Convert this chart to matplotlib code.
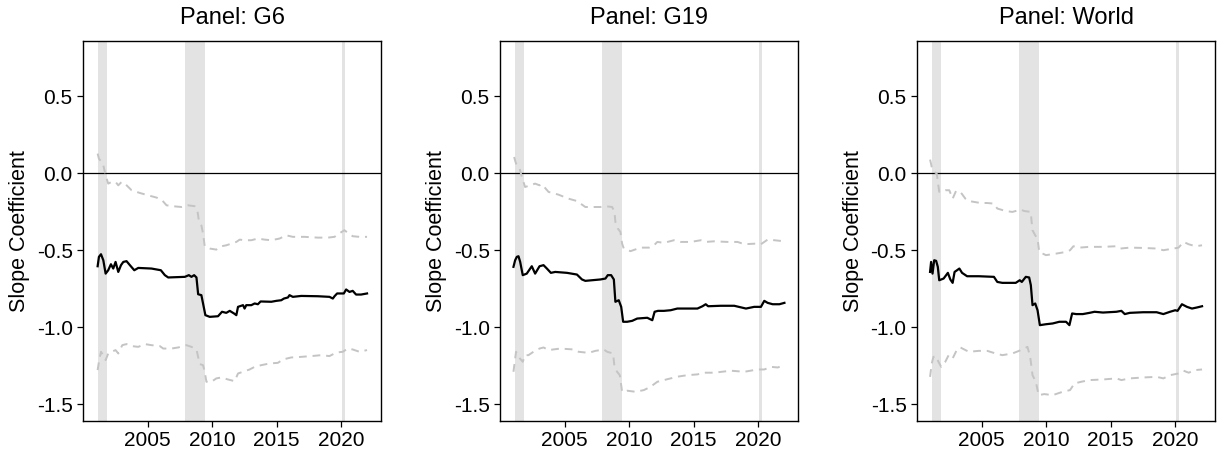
import matplotlib
matplotlib.use("Agg")
import matplotlib.pyplot as plt

plt.rcParams['font.family'] = ['Liberation Sans', 'DejaVu Sans']

panels = ['G6', 'G19', 'World']

# recession bands (start, end)
recessions = [(2001.17, 2001.83), (2007.92, 2009.42), (2020.08, 2020.30)]

# ---- G6 ----
g6_mid_x = [2001.13, 2001.23, 2001.39, 2001.57, 2001.75, 2001.95, 2002.16, 2002.34, 2002.52, 2002.73,
            2002.94, 2003.12, 2003.37, 2003.63, 2003.97, 2004.28, 2005.30, 2006.03, 2006.34, 2006.60,
            2007.89, 2008.20, 2008.40, 2008.61, 2008.79, 2008.92, 2009.17, 2009.30, 2009.48, 2009.82,
            2010.46, 2010.77, 2011.10, 2011.37, 2011.70, 2011.88, 2012.01, 2012.40, 2012.52, 2012.65,
            2013.04, 2013.30, 2013.55, 2013.76, 2014.59, 2014.98, 2015.36, 2015.57, 2015.88, 2016.00,
            2016.26, 2016.91, 2018.20, 2019.10, 2019.36, 2019.49, 2019.69, 2020.21, 2020.39, 2020.65,
            2020.90, 2021.16, 2021.55, 2022.01]
g6_mid_y = [-0.604, -0.543, -0.526, -0.565, -0.652, -0.630, -0.591, -0.619, -0.576, -0.641,
            -0.597, -0.576, -0.571, -0.597, -0.630, -0.615, -0.619, -0.630, -0.662, -0.677,
            -0.673, -0.662, -0.673, -0.662, -0.677, -0.786, -0.792, -0.846, -0.922, -0.933,
            -0.929, -0.900, -0.907, -0.894, -0.911, -0.922, -0.868, -0.857, -0.879, -0.857,
            -0.857, -0.846, -0.851, -0.833, -0.835, -0.829, -0.825, -0.814, -0.807, -0.792,
            -0.803, -0.797, -0.799, -0.803, -0.814, -0.799, -0.781, -0.781, -0.755, -0.771,
            -0.764, -0.788, -0.788, -0.781]
g6_hi_x = [2001.13, 2001.23, 2001.44, 2001.57, 2001.75, 2001.95, 2002.21, 2002.52, 2002.73, 2002.99,
           2003.24, 2003.76, 2004.41, 2005.05, 2005.70, 2006.08, 2006.47, 2006.98, 2007.63, 2008.14,
           2008.66, 2008.86, 2008.97, 2009.17, 2009.30, 2009.43, 2009.82, 2010.33, 2010.72, 2011.10,
           2011.49, 2011.88, 2012.14, 2012.52, 2013.04, 2013.55, 2014.07, 2014.59, 2015.23, 2015.75,
           2016.26, 2017.17, 2018.20, 2018.97, 2019.49, 2019.75, 2020.26, 2020.52, 2020.90, 2021.42,
           2022.01]
g6_hi_y = [0.128, 0.095, 0.074, 0.052, -0.013, -0.067, -0.056, -0.056, -0.078, -0.056,
           -0.067, -0.110, -0.128, -0.143, -0.158, -0.171, -0.208, -0.214, -0.219, -0.208,
           -0.214, -0.240, -0.305, -0.338, -0.392, -0.474, -0.489, -0.496, -0.474, -0.468,
           -0.457, -0.446, -0.431, -0.435, -0.435, -0.424, -0.431, -0.435, -0.424, -0.403,
           -0.413, -0.413, -0.418, -0.418, -0.413, -0.396, -0.370, -0.387, -0.409, -0.413,
           -0.413]
g6_lo_x = [2001.13, 2001.23, 2001.39, 2001.57, 2001.75, 2001.95, 2002.21, 2002.52, 2002.73, 2003.04,
           2003.37, 2003.76, 2004.28, 2004.79, 2005.30, 2005.95, 2006.21, 2006.85, 2007.37, 2008.01,
           2008.40, 2008.79, 2008.86, 2009.04, 2009.30, 2009.43, 2009.56, 2009.95, 2010.33, 2010.72,
           2011.23, 2011.75, 2012.01, 2012.40, 2012.91, 2013.30, 2013.81, 2014.46, 2015.10, 2015.49,
           2016.13, 2016.91, 2017.68, 2018.46, 2019.10, 2019.62, 2020.13, 2020.52, 2020.90, 2021.42,
           2022.01]
g6_lo_y = [-1.279, -1.225, -1.160, -1.182, -1.214, -1.171, -1.160, -1.149, -1.171, -1.117,
           -1.110, -1.123, -1.128, -1.110, -1.117, -1.123, -1.139, -1.139, -1.132, -1.117,
           -1.128, -1.145, -1.171, -1.240, -1.247, -1.290, -1.355, -1.355, -1.333, -1.327,
           -1.340, -1.351, -1.301, -1.290, -1.275, -1.258, -1.247, -1.236, -1.232, -1.210,
           -1.197, -1.193, -1.188, -1.182, -1.188, -1.165, -1.160, -1.139, -1.145, -1.160,
           -1.149]

# ---- G19 ----
g19_mid_x = [2001.04, 2001.17, 2001.30, 2001.43, 2001.56, 2001.76, 2002.07, 2002.46, 2002.72, 2003.06,
             2003.37, 2003.63, 2003.94, 2004.28, 2005.19, 2005.96, 2006.35, 2006.61, 2007.78, 2008.17,
             2008.35, 2008.61, 2008.82, 2008.94, 2009.20, 2009.39, 2009.54, 2009.85, 2010.24, 2010.63,
             2011.41, 2011.80, 2011.98, 2012.24, 2012.70, 2013.22, 2013.74, 2014.52, 2015.30, 2015.69,
             2015.94, 2016.13, 2017.11, 2018.15, 2019.06, 2019.70, 2020.22, 2020.48, 2020.74, 2021.13,
             2021.65, 2022.04]
g19_mid_y = [-0.608, -0.565, -0.543, -0.539, -0.576, -0.662, -0.652, -0.604, -0.652, -0.604,
             -0.597, -0.619, -0.647, -0.641, -0.647, -0.658, -0.690, -0.699, -0.690, -0.684,
             -0.662, -0.662, -0.690, -0.835, -0.825, -0.868, -0.965, -0.965, -0.959, -0.944,
             -0.939, -0.955, -0.900, -0.894, -0.894, -0.890, -0.879, -0.879, -0.879, -0.864,
             -0.851, -0.864, -0.861, -0.861, -0.879, -0.868, -0.868, -0.829, -0.842, -0.851,
             -0.851, -0.842]
g19_hi_x = [2001.09, 2001.24, 2001.50, 2001.69, 2001.94, 2002.33, 2002.72, 2003.06, 2003.24, 2003.76,
            2004.54, 2005.31, 2005.96, 2006.61, 2007.13, 2007.78, 2008.17, 2008.69, 2008.87, 2008.94,
            2009.13, 2009.33, 2009.46, 2009.59, 2010.11, 2010.89, 2011.54, 2011.93, 2012.19, 2012.70,
            2013.48, 2014.00, 2014.78, 2015.56, 2015.94, 2016.59, 2017.63, 2018.41, 2018.93, 2019.83,
            2020.22, 2020.74, 2021.26, 2022.04]
g19_hi_y = [0.106, 0.063, 0.037, -0.024, -0.089, -0.078, -0.067, -0.078, -0.071, -0.121,
            -0.139, -0.165, -0.180, -0.219, -0.219, -0.219, -0.214, -0.219, -0.251, -0.316,
            -0.359, -0.381, -0.457, -0.489, -0.506, -0.483, -0.483, -0.468, -0.446, -0.452,
            -0.435, -0.446, -0.446, -0.435, -0.446, -0.442, -0.446, -0.446, -0.461, -0.457,
            -0.461, -0.431, -0.435, -0.442]
g19_lo_x = [2001.04, 2001.24, 2001.43, 2001.76, 2001.94, 2002.20, 2002.59, 2003.06, 2003.37, 2003.76,
            2004.67, 2005.70, 2006.09, 2006.87, 2007.39, 2008.04, 2008.30, 2008.76, 2008.87, 2009.07,
            2009.28, 2009.46, 2009.85, 2010.50, 2011.15, 2011.67, 2012.19, 2012.70, 2013.74, 2014.52,
            2015.30, 2015.82, 2016.59, 2017.89, 2018.93, 2019.96, 2020.48, 2021.00, 2021.52, 2022.04]
g19_lo_y = [-1.290, -1.160, -1.193, -1.225, -1.182, -1.182, -1.160, -1.139, -1.132, -1.149,
            -1.139, -1.145, -1.160, -1.167, -1.154, -1.145, -1.160, -1.171, -1.258, -1.290,
            -1.312, -1.420, -1.413, -1.420, -1.409, -1.387, -1.355, -1.344, -1.322, -1.312,
            -1.307, -1.296, -1.296, -1.283, -1.290, -1.275, -1.275, -1.258, -1.262, -1.247]

# ---- World ----
world_mid_x = [2001.01, 2001.09, 2001.20, 2001.33, 2001.48, 2001.61, 2001.72, 2002.06, 2002.39, 2002.58,
               2002.76, 2002.91, 2003.10, 2003.28, 2003.49, 2003.88, 2004.79, 2005.96, 2006.22, 2006.61,
               2007.65, 2007.96, 2008.12, 2008.43, 2008.69, 2008.82, 2008.95, 2009.16, 2009.34, 2009.52,
               2009.99, 2010.51, 2011.03, 2011.55, 2011.81, 2012.02, 2012.33, 2012.85, 2013.37, 2013.76,
               2014.41, 2015.45, 2015.84, 2016.10, 2016.49, 2017.53, 2018.57, 2019.09, 2019.61, 2020.01,
               2020.19, 2020.53, 2020.92, 2021.31, 2021.70, 2022.09]
world_mid_y = [-0.641, -0.576, -0.652, -0.565, -0.569, -0.608, -0.695, -0.684, -0.647, -0.690,
               -0.712, -0.641, -0.630, -0.619, -0.647, -0.669, -0.669, -0.673, -0.706, -0.712,
               -0.712, -0.695, -0.706, -0.673, -0.677, -0.727, -0.857, -0.846, -0.890, -0.987,
               -0.981, -0.976, -0.965, -0.965, -0.987, -0.911, -0.915, -0.915, -0.907, -0.900,
               -0.905, -0.900, -0.894, -0.915, -0.907, -0.903, -0.903, -0.915, -0.900, -0.890,
               -0.894, -0.851, -0.868, -0.879, -0.872, -0.864]
world_hi_x = [2001.01, 2001.14, 2001.35, 2001.53, 2001.72, 2002.19, 2002.50, 2002.76, 2003.02, 2003.36,
              2003.75, 2004.01, 2004.92, 2005.44, 2005.96, 2006.22, 2006.87, 2007.39, 2008.04, 2008.30,
              2008.82, 2008.87, 2008.95, 2009.16, 2009.34, 2009.47, 2009.99, 2010.77, 2011.55, 2011.86,
              2012.12, 2012.59, 2013.37, 2014.41, 2015.45, 2015.76, 2016.49, 2017.53, 2018.57, 2019.09,
              2019.88, 2020.27, 2020.66, 2021.05, 2021.57, 2022.09]
world_hi_y = [0.089, 0.041, 0.009, -0.002, -0.121, -0.110, -0.110, -0.165, -0.115, -0.121,
              -0.165, -0.180, -0.193, -0.193, -0.197, -0.229, -0.245, -0.251, -0.236, -0.245,
              -0.251, -0.305, -0.370, -0.403, -0.424, -0.511, -0.532, -0.522, -0.511, -0.500,
              -0.474, -0.483, -0.478, -0.478, -0.474, -0.489, -0.483, -0.485, -0.489, -0.500,
              -0.489, -0.483, -0.446, -0.461, -0.474, -0.468]
world_lo_x = [2001.01, 2001.14, 2001.27, 2001.46, 2001.66, 2001.87, 2002.19, 2002.45, 2002.76, 2003.10,
              2003.36, 2004.01, 2004.79, 2005.44, 2006.09, 2006.61, 2007.39, 2007.91, 2008.30, 2008.56,
              2008.77, 2008.87, 2008.95, 2009.21, 2009.42, 2009.86, 2010.51, 2011.29, 2011.86, 2012.20,
              2012.72, 2013.37, 2014.41, 2015.45, 2015.84, 2016.49, 2017.53, 2018.57, 2019.09, 2019.61,
              2020.27, 2020.66, 2021.05, 2021.57, 2022.09]
world_lo_y = [-1.323, -1.236, -1.193, -1.188, -1.225, -1.258, -1.225, -1.182, -1.203, -1.145,
              -1.132, -1.160, -1.154, -1.154, -1.171, -1.182, -1.171, -1.154, -1.139, -1.128,
              -1.193, -1.258, -1.312, -1.355, -1.442, -1.435, -1.442, -1.420, -1.409, -1.366,
              -1.355, -1.344, -1.340, -1.333, -1.344, -1.333, -1.327, -1.323, -1.333, -1.312,
              -1.301, -1.283, -1.296, -1.279, -1.275]

series = [
    (g6_mid_x, g6_mid_y, g6_hi_x, g6_hi_y, g6_lo_x, g6_lo_y),
    (g19_mid_x, g19_mid_y, g19_hi_x, g19_hi_y, g19_lo_x, g19_lo_y),
    (world_mid_x, world_mid_y, world_hi_x, world_hi_y, world_lo_x, world_lo_y),
]

fig = plt.figure(figsize=(12.25, 4.55), dpi=100)
lefts = [0.0678, 0.4082, 0.7486]

for name, left, (mx, my, hx, hy, lx, ly) in zip(panels, lefts, series):
    ax = fig.add_axes([left, 0.0747, 0.2433, 0.8352])
    for start, end in recessions:
        ax.axvspan(start, end, color='#e3e3e3', lw=0, zorder=0)
    ax.axhline(0, color='black', lw=0.9, zorder=1)
    ax.plot(hx, hy, color='#c4c4c4', lw=1.4, ls=(0, (4, 3)), zorder=2)
    ax.plot(lx, ly, color='#c4c4c4', lw=1.4, ls=(0, (4, 3)), zorder=2)
    ax.plot(mx, my, color='black', lw=1.6, zorder=3)

    ax.set_xlim(2000.0, 2023.1)
    ax.set_ylim(-1.61, 0.86)
    ax.set_xticks([2005, 2010, 2015, 2020])
    ax.set_yticks([0.5, 0.0, -0.5, -1.0, -1.5])
    ax.set_yticklabels(['0.5', '0.0', '-0.5', '-1.0', '-1.5'])
    ax.tick_params(labelsize=15, length=4.5, width=0.9, pad=3, direction='out')
    for sp in ax.spines.values():
        sp.set_linewidth(1.0)
    ax.set_ylabel('Slope Coefficient', fontsize=15.5, labelpad=5)
    ax.set_title(f'Panel: {name}', fontsize=17, pad=12)

fig.savefig('out.png', dpi=100)
